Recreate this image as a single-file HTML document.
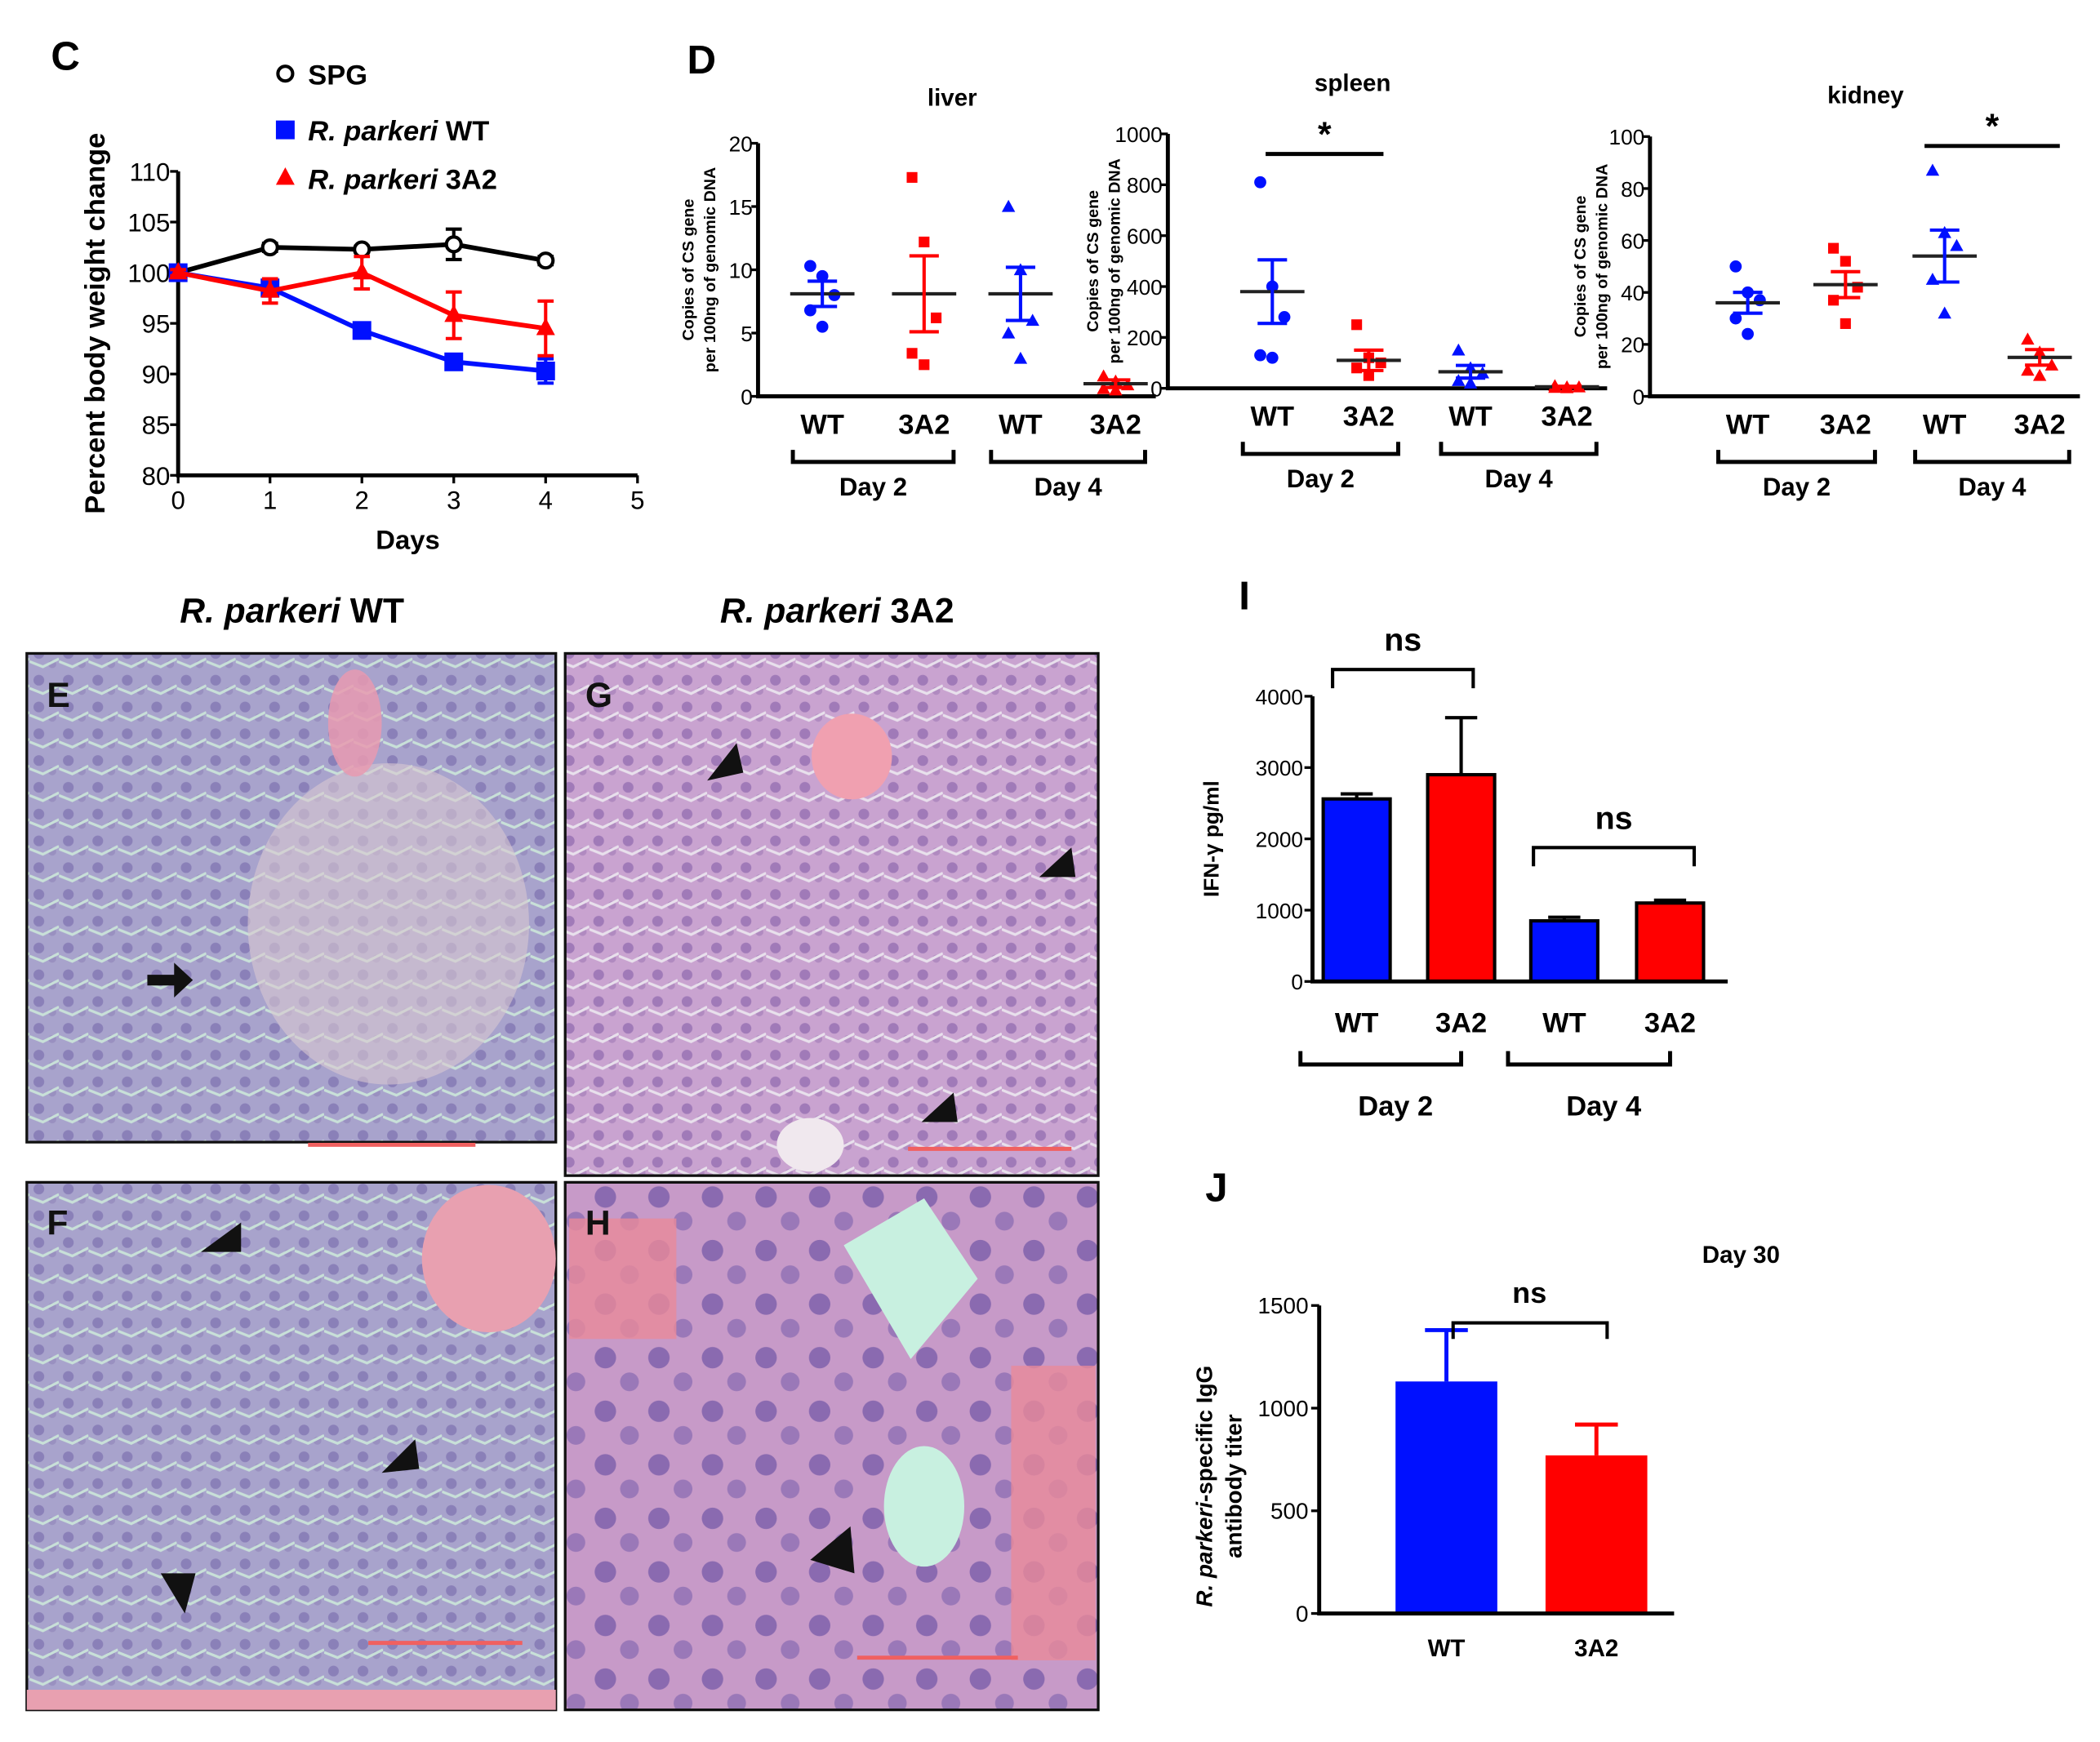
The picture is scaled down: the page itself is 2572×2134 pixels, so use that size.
<!DOCTYPE html>
<html><head><meta charset="utf-8"><style>
html,body{margin:0;padding:0;background:#fff}
svg{display:block;font-family:"Liberation Sans",sans-serif}
</style></head><body>
<svg id="fig" width="2572" height="2134" viewBox="0 0 1568 1301" xmlns="http://www.w3.org/2000/svg">
<defs>
<pattern id="cellsA" width="22" height="20" patternUnits="userSpaceOnUse"><rect width="22" height="20" fill="#a8a3cc"/><circle cx="7" cy="8" r="4" fill="#8a80b8"/><circle cx="17" cy="16" r="3" fill="#9990c0"/><path d="M0 14 L10 18 L22 12" stroke="#c8e0d8" stroke-width="2" fill="none"/></pattern>
<pattern id="cellsG" width="22" height="20" patternUnits="userSpaceOnUse"><rect width="22" height="20" fill="#c9a3d0"/><circle cx="7" cy="8" r="4" fill="#a07ab8"/><circle cx="17" cy="16" r="3" fill="#b08ac0"/><path d="M0 14 L10 18 L22 12" stroke="#e8e0ec" stroke-width="2" fill="none"/></pattern>
<pattern id="cellsH" width="40" height="40" patternUnits="userSpaceOnUse"><rect width="40" height="40" fill="#c79ac8"/><circle cx="12" cy="14" r="8" fill="#8a6ab0"/><circle cx="30" cy="32" r="7" fill="#9a78b8"/></pattern>
</defs>
<g id="panelC"></g>
<g id="panelD"></g>
<g id="hist">
<text x="218" y="465" font-size="26" font-weight="bold" text-anchor="middle"><tspan font-style="italic">R. parkeri</tspan> WT</text>
<text x="625" y="465" font-size="26" font-weight="bold" text-anchor="middle"><tspan font-style="italic">R. parkeri</tspan> 3A2</text>
<g><rect x="20" y="488" width="395" height="365" fill="url(#cellsA)" stroke="#111" stroke-width="2"/><ellipse cx="290" cy="690" rx="105" ry="120" fill="#d8c8d0" opacity="0.6"/><ellipse cx="265" cy="540" rx="20" ry="40" fill="#e89ab0" opacity="0.85"/><text x="35" y="528" font-size="26" font-weight="bold" fill="#111">E</text><path d="M110 728 h20 v-9 l14 13 l-14 13 v-9 h-20z" fill="#111"/><line x1="230" y1="855" x2="355" y2="855" stroke="#f06060" stroke-width="3"/></g>
<g><rect x="422" y="488" width="398" height="390" fill="url(#cellsG)" stroke="#111" stroke-width="2"/><ellipse cx="636" cy="565" rx="30" ry="32" fill="#f0a0b0"/><ellipse cx="605" cy="855" rx="25" ry="20" fill="#f0e8ee"/><text x="437" y="528" font-size="26" font-weight="bold" fill="#111">G</text><path d="M528 583 l22 -28 l5 22z M776 655 l24 -22 l3 22z M688 838 l24 -22 l3 22z" fill="#111"/><line x1="678" y1="858" x2="800" y2="858" stroke="#f06060" stroke-width="3"/></g>
<g><rect x="20" y="883" width="395" height="394" fill="url(#cellsA)" stroke="#111" stroke-width="2"/><ellipse cx="365" cy="940" rx="50" ry="55" fill="#e8a0b0"/><text x="35" y="922" font-size="26" font-weight="bold" fill="#111">F</text><path d="M150 935 l30 -22 l0 22z M285 1100 l25 -25 l3 22z M120 1175 l18 30 l8 -30z" fill="#111"/><line x1="275" y1="1227" x2="390" y2="1227" stroke="#f06060" stroke-width="3"/><rect x="20" y="1262" width="395" height="15" fill="#e8a0b0"/></g>
<g><rect x="422" y="883" width="398" height="394" fill="url(#cellsH)" stroke="#111" stroke-width="2"/><path d="M630 930 l60 -35 l40 60 l-50 60z" fill="#c8f0e0"/><ellipse cx="690" cy="1125" rx="30" ry="45" fill="#c8f0e0"/><rect x="425" y="910" width="80" height="90" fill="#e88a9a" opacity="0.8"/><rect x="755" y="1020" width="63" height="220" fill="#e88a9a" opacity="0.8"/><text x="437" y="922" font-size="26" font-weight="bold" fill="#111">H</text><path d="M605 1165 l30 -25 l3 35z" fill="#111"/><line x1="640" y1="1238" x2="760" y2="1238" stroke="#f06060" stroke-width="3"/></g>
</g>
<g id="panelI"></g>
<g id="panelJ"></g>
</svg>
<script>
const NS="http://www.w3.org/2000/svg";
function mk(p,t,a,txt){const e=document.createElementNS(NS,t);for(const k in a)e.setAttribute(k,a[k]);if(txt!==undefined)e.textContent=txt;p.appendChild(e);return e;}
// ---------- Panel C data ----------
const cDays=[0,1,2,3,4];
const cSPG=[100,102.5,102.3,102.8,101.2];
const cSPGerr=[0.3,0.4,0.3,1.5,0.4];
const cWT=[100,98.5,94.3,91.2,90.3];
const cWTerr=[0.3,0.8,0.5,0.5,1.2];
const c3A2=[100,98.2,100,95.8,94.5];
const c3A2err=[0.3,1.2,1.6,2.3,2.7];
const cYTicks=[80,85,90,95,100,105,110];
const cXTicks=[0,1,2,3,4,5];
(function(){
 const g=document.getElementById('panelC');
 const X=d=>133+d*(476-133)/5, Y=v=>355-(v-80)*(355-128)/30;
 const t=mk(g,'text',{x:38,y:52,'font-size':30,'font-weight':'bold'},'C');
 
 const ax=mk(g,'path',{d:`M${X(0)} ${Y(110)} V${Y(80)} H${X(5)}`,stroke:'#000','stroke-width':3,fill:'none'});
 
 cYTicks.forEach(v=>{mk(g,'line',{x1:X(0)-6,x2:X(0),y1:Y(v),y2:Y(v),stroke:'#000','stroke-width':2});
  const l=mk(g,'text',{x:X(0)-6,y:Y(v)+7,'font-size':19,'text-anchor':'end'},v);});
 cXTicks.forEach(v=>{mk(g,'line',{x1:X(v),x2:X(v),y1:Y(80),y2:Y(80)+6,stroke:'#000','stroke-width':2});
  const l=mk(g,'text',{x:X(v),y:Y(80)+25,'font-size':19,'text-anchor':'middle'},v);});
 const xt=mk(g,'text',{x:X(2.5),y:410,'font-size':20,'font-weight':'bold','text-anchor':'middle'},'Days');
 const yt=mk(g,'text',{x:0,y:0,'font-size':21,'font-weight':'bold','text-anchor':'middle',transform:`translate(78,${Y(95)}) rotate(-90)`},'Percent body weight change');
 const series=[[cSPG,cSPGerr,'#000','o','spg'],[cWT,cWTerr,'#0010ff','s','wt'],[c3A2,c3A2err,'#ff0000','t','3a2']];
 series.forEach(([v,e,c,m,n])=>{
  const ln=mk(g,'polyline',{points:v.map((y,i)=>X(cDays[i])+','+Y(y)).join(' '),stroke:c,'stroke-width':3.5,fill:'none'});
  
  v.forEach((y,i)=>{const x=X(cDays[i]);
   mk(g,'path',{d:`M${x} ${Y(y-e[i])} V${Y(y+e[i])} M${x-6} ${Y(y-e[i])} h12 M${x-6} ${Y(y+e[i])} h12`,stroke:c,'stroke-width':2.5});
   let p; if(m==='o')p=mk(g,'circle',{cx:x,cy:Y(y),r:5.5,fill:'#fff',stroke:c,'stroke-width':2.5});
   else if(m==='s')p=mk(g,'rect',{x:x-7,y:Y(y)-7,width:14,height:14,fill:c});
   else p=mk(g,'path',{d:`M${x} ${Y(y)-8} l7 13 h-14z`,fill:c});
   });
 });
 const leg=[['SPG','#000','o',55,false],['WT','#0010ff','s',97,true],['3A2','#ff0000','t',133,true]];
 leg.forEach(([l,c,m,y,it])=>{const x=213;
  if(m==='o')mk(g,'circle',{cx:x,cy:y,r:5.5,fill:'#fff',stroke:c,'stroke-width':2.5});
  else if(m==='s')mk(g,'rect',{x:x-7,y:y-7,width:14,height:14,fill:c});
  else mk(g,'path',{d:`M${x} ${y-8} l7 13 h-14z`,fill:c});
  const tx=mk(g,'text',{x:230,y:y+8,'font-size':21,'font-weight':'bold'});
  if(it){mk(tx,'tspan',{'font-style':'italic'},'R. parkeri ');mk(tx,'tspan',{},l);}else tx.textContent=l;
  });
})();
// ---------- Panel D data ----------
const dGroups=['WT','3A2','WT','3A2'];
const dLiver=[[10.3,9.5,8.0,6.8,5.5],[17.3,12.2,6.2,3.4,2.5],[15.0,10.0,6.0,5.0,3.0],[1.6,1.2,0.9,0.6,0.5]];
const dLiverMean=[8.1,8.1,8.1,1.0];const dLiverSem=[1.0,3.0,2.1,0.3];
const dSpleen=[[810,400,280,130,120],[250,120,100,80,50],[150,80,60,30,20],[10,5,5,3,2]];
const dSpleenMean=[380,110,65,6];const dSpleenSem=[125,40,25,2];
const dKidney=[[50,40,37,30,24],[57,52,42,37,28],[87,63,58,45,32],[22,17,12,10,8]];
const dKidneyMean=[36,43,54,15];const dKidneySem=[4,5,10,3];
const dLiverTicks=[0,5,10,15,20],dSpleenTicks=[0,200,400,600,800,1000],dKidneyTicks=[0,20,40,60,80,100];
(function(){
 const g=document.getElementById('panelD');
 const l=mk(g,'text',{x:513,y:55,'font-size':30,'font-weight':'bold'},'D');
 const cols=['#0010ff','#ff0000','#0010ff','#ff0000'], mks=['c','s','t','t'];
 function sub(name,ax,top,bot,max,ticks,xs,pts,mean,sem,titleX,titleY,sig,ytOff){
  const Y=v=>bot-v*(bot-top)/max;
  const t=mk(g,'text',{x:titleX,y:titleY,'font-size':18,'font-weight':'bold','text-anchor':'middle'},name);
  const a=mk(g,'path',{d:`M${ax} ${top} V${bot} H${xs[3]+30}`,stroke:'#000','stroke-width':3,fill:'none'});
  ticks.forEach(v=>{mk(g,'line',{x1:ax-5,x2:ax,y1:Y(v),y2:Y(v),stroke:'#000','stroke-width':2});
   const tl=mk(g,'text',{x:ax-4,y:Y(v)+6,'font-size':16,'text-anchor':'end'},v);});
  const yt=mk(g,'text',{'font-size':12,'font-weight':'bold','text-anchor':'middle',transform:`translate(${ax-ytOff},${(top+bot)/2}) rotate(-90)`});
  mk(yt,'tspan',{x:0,dy:0},'Copies of CS gene');mk(yt,'tspan',{x:0,dy:16},'per 100ng of genomic DNA');
  
  xs.forEach((x,i)=>{
   pts[i].forEach((v,j)=>{const px=x+((j%3)-1)*9, py=Y(v);let p;
    if(mks[i]==='c')p=mk(g,'circle',{cx:px,cy:py,r:4.5,fill:cols[i]});
    else if(mks[i]==='s')p=mk(g,'rect',{x:px-4,y:py-4,width:8,height:8,fill:cols[i]});
    else p=mk(g,'path',{d:`M${px} ${py-5} l5 9 h-10z`,fill:cols[i]});
    });
   const m=mk(g,'line',{x1:x-24,x2:x+24,y1:Y(mean[i]),y2:Y(mean[i]),stroke:'#222','stroke-width':2.5});
   mk(g,'path',{d:`M${x} ${Y(mean[i]-sem[i])} V${Y(mean[i]+sem[i])} M${x-11} ${Y(mean[i]-sem[i])} h22 M${x-11} ${Y(mean[i]+sem[i])} h22`,stroke:cols[i],'stroke-width':2.5});
   const xl=mk(g,'text',{x:x,y:bot+28,'font-size':21,'font-weight':'bold','text-anchor':'middle'},dGroups[i]);
  });
  [[xs[0],xs[1],'Day 2'],[xs[2],xs[3],'Day 4']].forEach(([a,b,d])=>{
   mk(g,'path',{d:`M${a-22} ${bot+40} v9 H${b+22} v-9`,stroke:'#000','stroke-width':3,fill:'none'});
   const dl=mk(g,'text',{x:(a+b)/2,y:bot+74,'font-size':19,'font-weight':'bold','text-anchor':'middle'},d);});
  if(sig){const s=mk(g,'line',{x1:sig[0],x2:sig[1],y1:sig[2],y2:sig[2],stroke:'#000','stroke-width':3});
   mk(g,'text',{x:(sig[0]+sig[1])/2,y:sig[2]-6,'font-size':26,'font-weight':'bold','text-anchor':'middle'},'*');}
 }
 sub('liver',566,107,296,20,dLiverTicks,[614,690,762,833],dLiver,dLiverMean,dLiverSem,711,79,null,48);
 sub('spleen',872,100,290,1000,dSpleenTicks,[950,1022,1098,1170],dSpleen,dSpleenMean,dSpleenSem,1010,68,[945,1033,115],52);
 sub('kidney',1232,102,296,100,dKidneyTicks,[1305,1378,1452,1523],dKidney,dKidneyMean,dKidneySem,1393,77,[1437,1538,109],48);
})();
// ---------- Panel I data ----------
const iGroups=['WT','3A2','WT','3A2'];
const iValues=[2560,2900,850,1100];
const iErr=[70,800,50,40];
const iTicks=[0,1000,2000,3000,4000];
(function(){
 const g=document.getElementById('panelI');const ax=980,top=520,bot=733;
 const Y=v=>bot-v*(bot-top)/4000, xs=[1013,1091,1168,1247], cols=['#0010ff','#ff0000','#0010ff','#ff0000'];
 const l=mk(g,'text',{x:925,y:455,'font-size':30,'font-weight':'bold'},'I');
 xs.forEach((x,i)=>{mk(g,'path',{d:`M${x} ${Y(iValues[i])} V${Y(iValues[i]+iErr[i])} M${x-12} ${Y(iValues[i]+iErr[i])} h24`,stroke:'#000','stroke-width':2.5});
  const b=mk(g,'rect',{x:x-25,y:Y(iValues[i]),width:50,height:bot-Y(iValues[i]),fill:cols[i],stroke:'#000','stroke-width':2.5});
  const xl=mk(g,'text',{x:x,y:bot+38,'font-size':21,'font-weight':'bold','text-anchor':'middle'},iGroups[i]);});
 mk(g,'path',{d:`M${ax} ${top} V${bot} H1290`,stroke:'#000','stroke-width':3,fill:'none'});
 iTicks.forEach(v=>{mk(g,'line',{x1:ax-6,x2:ax,y1:Y(v),y2:Y(v),stroke:'#000','stroke-width':2});
  const t=mk(g,'text',{x:ax-7,y:Y(v)+6,'font-size':16,'text-anchor':'end'},v);});
 const yt=mk(g,'text',{'font-size':16,'font-weight':'bold','text-anchor':'middle',transform:`translate(910,${(top+bot)/2}) rotate(-90)`},'IFN-γ pg/ml');
 [[xs[0],xs[1],'Day 2'],[xs[2],xs[3],'Day 4']].forEach(([a,b,d])=>{mk(g,'path',{d:`M${a-42} ${bot+52} v10 H${b+0} v-10`,stroke:'#000','stroke-width':3,fill:'none'});
  const dl=mk(g,'text',{x:(a+b)/2-10,y:bot+100,'font-size':21,'font-weight':'bold','text-anchor':'middle'},d);});
 [[995,1100,500],[1145,1265,633]].forEach(([a,b,y])=>{mk(g,'path',{d:`M${a} ${y+14} V${y} H${b} V${y+14}`,stroke:'#000','stroke-width':2.5,fill:'none'});
  const n=mk(g,'text',{x:(a+b)/2,y:y-14,'font-size':24,'font-weight':'bold','text-anchor':'middle'},'ns');});
})();
// ---------- Panel J data ----------
const jGroups=['WT','3A2'];
const jValues=[1130,770];
const jErr=[250,150];
const jTicks=[0,500,1000,1500];
(function(){
 const g=document.getElementById('panelJ');const ax=985,top=975,bot=1205;
 const Y=v=>bot-v*(bot-top)/1500, xs=[1080,1192], cols=['#0010ff','#ff0000'];
 const l=mk(g,'text',{x:900,y:897,'font-size':30,'font-weight':'bold'},'J');
 const d=mk(g,'text',{x:1300,y:943,'font-size':18,'font-weight':'bold','text-anchor':'middle'},'Day 30');
 xs.forEach((x,i)=>{mk(g,'path',{d:`M${x} ${Y(jValues[i])} V${Y(jValues[i]+jErr[i])} M${x-16} ${Y(jValues[i]+jErr[i])} h32`,stroke:cols[i],'stroke-width':3});
  const b=mk(g,'rect',{x:x-38,y:Y(jValues[i]),width:76,height:bot-Y(jValues[i]),fill:cols[i]});
  const xl=mk(g,'text',{x:x,y:bot+32,'font-size':18,'font-weight':'bold','text-anchor':'middle'},jGroups[i]);});
 mk(g,'path',{d:`M${ax} ${top} V${bot} H1250`,stroke:'#000','stroke-width':3,fill:'none'});
 jTicks.forEach(v=>{mk(g,'line',{x1:ax-6,x2:ax,y1:Y(v),y2:Y(v),stroke:'#000','stroke-width':2});
  const t=mk(g,'text',{x:ax-8,y:Y(v)+6,'font-size':17,'text-anchor':'end'},v);});
 const yt=mk(g,'text',{'font-size':17,'font-weight':'bold','text-anchor':'middle',transform:`translate(905,${(top+bot)/2+20}) rotate(-90)`});
 mk(yt,'tspan',{x:0,dy:0},'');const t1=yt.lastChild;mk(t1,'tspan',{'font-style':'italic'},'R. parkeri');mk(t1,'tspan',{},'-specific IgG');
 mk(yt,'tspan',{x:0,dy:22},'antibody titer');
 
 mk(g,'path',{d:`M1085 1000 V988 H1200 V1000`,stroke:'#000','stroke-width':2.5,fill:'none'});
 const n=mk(g,'text',{x:1142,y:973,'font-size':22,'font-weight':'bold','text-anchor':'middle'},'ns');
})();
</script>
</body></html>
